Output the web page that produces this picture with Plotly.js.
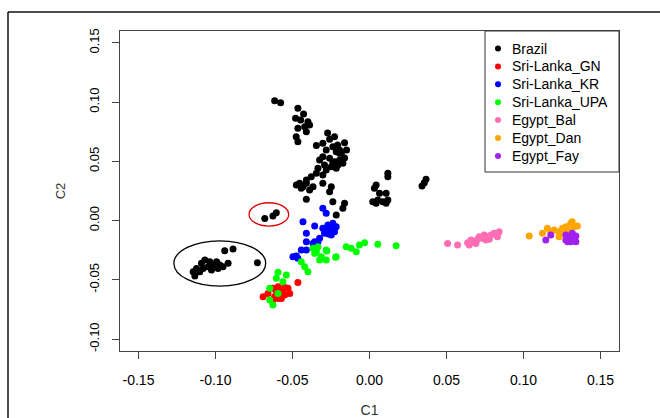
<!DOCTYPE html>
<html>
<head>
<meta charset="utf-8">
<script src="https://cdn.plot.ly/plotly-3.0.1.min.js"></script>
<style>
html,body{margin:0;padding:0;background:#fff;}
#chart{width:660px;height:418px;}
</style>
</head>
<body>
<div id="chart"></div>
<script>
// Group names (legend order)
const groups = ["Brazil","Sri-Lanka_GN","Sri-Lanka_KR","Sri-Lanka_UPA","Egypt_Bal","Egypt_Dan","Egypt_Fay"];
const colors = ["#000000","#ff0000","#0000ff","#00ff00","#ff6eb4","#ffa500","#a020f0"];

// Brazil
const brazilC1 = [-0.0616,-0.0577,-0.0465,-0.0428,-0.0480,-0.0447,-0.0400,-0.0389,-0.0421,-0.0465,-0.0410,-0.0476,-0.0465,
  -0.0345,-0.0303,-0.0259,-0.0227,-0.0162,-0.0281,-0.0238,-0.0216,-0.0194,-0.0303,-0.0259,-0.0227,-0.0194,-0.0292,-0.0248,
  -0.0216,-0.0335,-0.0173,-0.0183,-0.0238,-0.0205,-0.0281,-0.0345,-0.0303,-0.0378,-0.0410,-0.0454,-0.0475,-0.0432,-0.0367,
  -0.0389,-0.0303,-0.0248,-0.0259,-0.0410,-0.0238,-0.0162,-0.0173,-0.0216,-0.0443,-0.0410,-0.0194,-0.0272,-0.0207,-0.0162,
  -0.0149,-0.0324,
  0.0119,0.0119,0.0043,0.0032,0.0065,0.0108,0.0021,0.0054,0.0086,0.0119,0.0108,0.0043,
  0.0367,0.0356,0.0341,
  -0.0680,-0.0627,-0.0605,
  -0.1134,-0.1145,-0.1123,-0.1091,-0.1069,-0.1037,-0.1048,-0.1015,-0.0993,-0.0972,-0.0983,-0.0951,-0.0918,-0.0940,-0.0886,
  -0.0728,-0.1102,-0.1080,-0.1026];
const brazilC2 = [0.1012,0.0995,0.0948,0.0900,0.0863,0.0849,0.0835,0.0807,0.0793,0.0779,0.0750,0.0708,0.0666,
  0.0634,0.0652,0.0686,0.0708,0.0657,0.0596,0.0624,0.0582,0.0568,0.0539,0.0526,0.0497,0.0511,0.0469,0.0455,
  0.0441,0.0441,0.0484,0.0568,0.0484,0.0469,0.0427,0.0399,0.0385,0.0371,0.0343,0.0315,0.0300,0.0286,0.0286,
  0.0258,0.0315,0.0286,0.0244,0.0180,0.0160,0.0146,0.0104,0.0047,0.0273,0.0315,0.0596,0.0739,0.0638,0.0528,
  0.0596,0.0511,
  0.0399,0.0371,0.0300,0.0273,0.0230,0.0230,0.0160,0.0174,0.0160,0.0174,0.0146,0.0146,
  0.0349,0.0320,0.0292,
  0.0019,0.0039,0.0067,
  -0.0468,-0.0431,-0.0403,-0.0360,-0.0333,-0.0347,-0.0389,-0.0375,-0.0347,-0.0375,-0.0403,-0.0389,-0.0360,-0.0254,-0.0240,
  -0.0355,-0.0431,-0.0403,-0.0417];

// Sri-Lanka_GN
const gnC1 = [-0.0691,-0.0659,-0.0627,-0.0594,-0.0562,-0.0529,-0.0583,-0.0616,-0.0551,-0.0465,-0.0605,-0.0518,-0.0572,-0.0627,-0.0594,-0.0572,-0.0551];
const gnC2 = [-0.0642,-0.0614,-0.0571,-0.0558,-0.0586,-0.0571,-0.0628,-0.0642,-0.0628,-0.0521,-0.0600,-0.0614,-0.0656,-0.0670,-0.0656,-0.0600,-0.0563];

// Sri-Lanka_KR
const krC1 = [-0.0303,-0.0281,-0.0432,-0.0356,-0.0303,-0.0270,-0.0238,-0.0216,-0.0259,-0.0292,-0.0248,-0.0227,-0.0410,-0.0324,
  -0.0356,-0.0410,-0.0443,-0.0410,-0.0475,-0.0497,-0.0465,-0.0292,-0.0335,-0.0367,-0.0279,-0.0246,-0.0266];
const krC2 = [0.0104,0.0062,-0.0009,-0.0046,-0.0065,-0.0037,-0.0023,-0.0051,-0.0094,-0.0107,-0.0122,-0.0094,-0.0107,-0.0149,
  -0.0178,-0.0178,-0.0248,-0.0248,-0.0299,-0.0305,-0.0318,-0.0079,-0.0178,-0.0192,-0.0062,-0.0071,-0.0113];

// Sri-Lanka_UPA
const upaC1 = [-0.0594,-0.0540,-0.0605,-0.0562,-0.0648,-0.0594,-0.0648,-0.0627,-0.0443,-0.0421,-0.0400,-0.0356,-0.0335,-0.0277,
  -0.0324,-0.0281,-0.0220,-0.0345,-0.0367,-0.0281,-0.0151,-0.0119,-0.0065,-0.0032,0.0054,0.0173,-0.0086,-0.0216,-0.0313];
const upaC2 = [-0.0436,-0.0459,-0.0487,-0.0516,-0.0571,-0.0614,-0.0670,-0.0712,-0.0347,-0.0389,-0.0431,-0.0276,-0.0220,-0.0257,
  -0.0333,-0.0333,-0.0310,-0.0262,-0.0234,-0.0248,-0.0220,-0.0234,-0.0206,-0.0187,-0.0200,-0.0212,-0.0262,-0.0305,-0.0305];

// Egypt_Bal
const balC1 = [0.0507,0.0572,0.0637,0.0659,0.0680,0.0702,0.0713,0.0734,0.0745,0.0767,0.0789,0.0810,0.0842,0.0831,0.0778,0.0691,0.0648,0.0756];
const balC2 = [-0.0192,-0.0206,-0.0187,-0.0164,-0.0178,-0.0158,-0.0136,-0.0149,-0.0122,-0.0136,-0.0122,-0.0107,-0.0094,-0.0136,-0.0158,-0.0192,-0.0206,-0.0164];

// Egypt_Dan
const danC1 = [0.1037,0.1155,0.1177,0.1199,0.1231,0.1253,0.1275,0.1307,0.1328,0.1350,0.1296,0.1264,0.1123,0.1231,0.1316];
const danC2 = [-0.0130,-0.0065,-0.0094,-0.0079,-0.0094,-0.0065,-0.0051,-0.0023,-0.0051,-0.0046,-0.0079,-0.0107,-0.0107,-0.0136,-0.0009];

// Egypt_Fay
const fayC1 = [0.1145,0.1177,0.1275,0.1296,0.1317,0.1340,0.1275,0.1307,0.1328,0.1286,0.1340];
const fayC2 = [-0.0164,-0.0122,-0.0122,-0.0136,-0.0107,-0.0130,-0.0164,-0.0178,-0.0164,-0.0178,-0.0178];

const xs = [brazilC1, gnC1, krC1, upaC1, balC1, danC1, fayC1];
const ys = [brazilC2, gnC2, krC2, upaC2, balC2, danC2, fayC2];

// Axis ticks
const xTicks = [-0.15,-0.10,-0.05,0.00,0.05,0.10,0.15];
const yTicks = [-0.10,-0.05,0.00,0.05,0.10,0.15];

const FONT = "Liberation Sans, Arial, sans-serif";

// plot-area geometry (pixels) used to place the R-style legend box
const W = 660, H = 418, ML = 120, MR = 41, MT = 31, MB = 67;
const PW = W - ML - MR, PH = H - MT - MB;
const px2x = p => (p - ML) / PW;
const py2y = p => (H - MB - p) / PH;

const traces = groups.map((g,i)=>({
  type:"scatter", mode:"markers", name:g, x:xs[i], y:ys[i],
  marker:{color:colors[i], size:7, line:{width:0}},
  showlegend:false,
  hoverinfo:"x+y+name"
}));

// R-style legend (box at top-right corner of the plot region)
const legLeft = 485, legRight = ML + PW, legTop = MT, legBottom = 172;
const rowFirst = 48.5, rowStep = 17.9, dotX = 498, textX = 510;
const shapes = [
  {type:"rect", xref:"paper", yref:"paper", x0:px2x(legLeft), x1:px2x(legRight), y0:py2y(legBottom), y1:py2y(legTop),
    line:{color:"#333", width:1}, fillcolor:"#ffffff", layer:"above"}
];
const annotations = [];
groups.forEach((g,i)=>{
  const cy = rowFirst + i*rowStep;
  shapes.push({type:"circle", xref:"paper", yref:"paper", xsizemode:"pixel", ysizemode:"pixel",
    xanchor:px2x(dotX), yanchor:py2y(cy), x0:-3, x1:3, y0:-3, y1:3,
    fillcolor:colors[i], line:{color:colors[i], width:0}, layer:"above"});
  annotations.push({xref:"paper", yref:"paper", x:px2x(textX), y:py2y(cy), xanchor:"left", yanchor:"middle",
    text:g, showarrow:false, font:{family:FONT, size:14, color:"#000"}});
});

// highlighted groups (ellipses) and the figure frame
shapes.push(
  {type:"circle", xref:"x", yref:"y", x0:-0.0782, x1:-0.0525, y0:-0.0046, y1:0.0151,
    line:{color:"#e00000", width:1.3}},
  {type:"circle", xref:"x", yref:"y", x0:-0.1270, x1:-0.0674, y0:-0.0552, y1:-0.0170,
    line:{color:"#000000", width:1.3}},
  {type:"line", xref:"paper", yref:"paper", x0:px2x(8), x1:1.2, y0:py2y(12), y1:py2y(12),
    line:{color:"#111", width:1.5}},
  {type:"line", xref:"paper", yref:"paper", x0:px2x(8), x1:px2x(8), y0:py2y(12), y1:-0.4,
    line:{color:"#111", width:1.5}}
);

const layout = {
  width:W, height:H,
  margin:{l:ML, r:MR, t:MT, b:MB, pad:0},
  paper_bgcolor:"#ffffff", plot_bgcolor:"#ffffff",
  font:{family:FONT, size:12, color:"#000"},
  showlegend:false,
  xaxis:{range:[-0.162,0.162], tickvals:xTicks, ticktext:xTicks.map(v=>v.toFixed(2)),
    showgrid:false, zeroline:false, showline:true, mirror:true, linecolor:"#444", linewidth:1,
    ticks:"outside", ticklen:7, tickcolor:"#444", ticklabelstandoff:9,
    tickfont:{family:FONT, size:14, color:"#000"},
    title:{text:"C1", font:{family:FONT, size:14, color:"#333"}, standoff:18}},
  yaxis:{range:[-0.11,0.16], tickvals:yTicks, ticktext:yTicks.map(v=>v.toFixed(2)),
    showgrid:false, zeroline:false, showline:true, mirror:true, linecolor:"#444", linewidth:1,
    ticks:"outside", ticklen:7, tickcolor:"#444", tickangle:-90, ticklabelstandoff:8,
    tickfont:{family:FONT, size:13, color:"#000"},
    title:{text:"C2", font:{family:FONT, size:13, color:"#333"}, standoff:18}},
  shapes:shapes,
  annotations:annotations
};

Plotly.newPlot("chart", traces, layout, {displayModeBar:false, staticPlot:true});
</script>
</body>
</html>
